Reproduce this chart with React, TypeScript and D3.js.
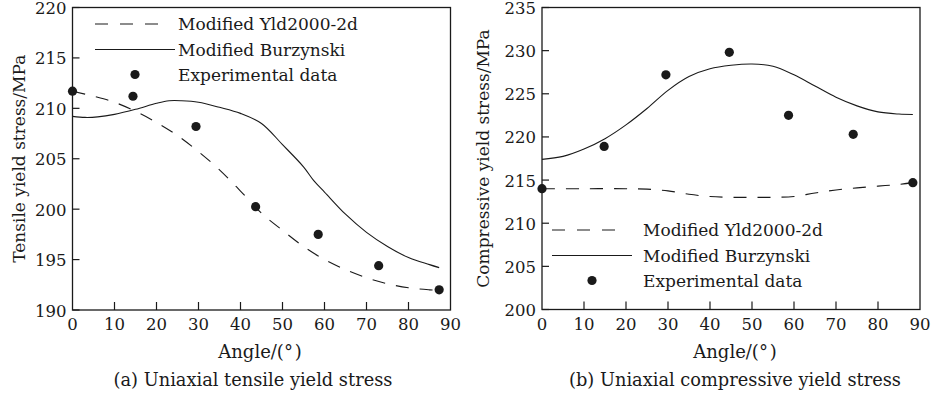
import React from 'react';
import * as d3 from 'd3';

// (a) tensile
const tensileYldAngles = [0, 5, 10, 15, 20, 25, 30, 35, 40, 45, 50, 55, 60, 65, 70, 75, 80, 85, 87.3];
const tensileYld = [211.7, 211.2, 210.6, 209.7, 208.6, 207.3, 205.7, 203.9, 201.8, 199.6, 197.9, 196.3, 195.0, 194.0, 193.2, 192.6, 192.2, 192.0, 191.95];
const tensileBurAngles = [0, 3, 6, 10, 15, 20, 23, 26, 30, 35, 40, 45, 50, 55, 57.5, 60, 65, 70, 75, 80, 85, 87.3];
const tensileBur = [209.2, 209.1, 209.15, 209.4, 209.9, 210.5, 210.75, 210.75, 210.6, 210.1, 209.5, 208.5, 206.4, 204.2, 202.8, 201.7, 199.5, 197.7, 196.3, 195.2, 194.5, 194.2];
const tensileExpAngles = [0, 14.4, 29.4, 43.6, 58.5, 72.9, 87.3];
const tensileExp = [211.7, 211.2, 208.2, 200.25, 197.5, 194.4, 192.0];

// (b) compressive
const compYldAngles = [0, 10, 20, 25, 30, 35, 40, 45, 50, 55, 60, 65, 70, 75, 80, 85, 88.3];
const compYld = [214.0, 214.0, 214.0, 213.95, 213.75, 213.35, 213.1, 213.0, 213.0, 213.0, 213.1, 213.5, 213.85, 214.1, 214.3, 214.5, 214.7];
const compBurAngles = [0, 5, 10, 15, 20, 25, 30, 35, 40, 45, 50, 55, 60, 65, 70, 75, 80, 85, 88.3];
const compBur = [217.4, 217.75, 218.6, 219.8, 221.4, 223.3, 225.4, 227.0, 227.9, 228.3, 228.45, 228.2, 227.2, 225.9, 224.6, 223.6, 222.9, 222.65, 222.6];
const compExpAngles = [0, 14.8, 29.5, 44.6, 58.7, 74.1, 88.3];
const compExp = [214.0, 218.9, 227.2, 229.8, 222.5, 220.3, 214.7];

const xTicks = [0, 10, 20, 30, 40, 50, 60, 70, 80, 90];
const tensileTicks = [190, 195, 200, 205, 210, 215, 220];
const compTicks = [200, 205, 210, 215, 220, 225, 230, 235];

const legendLabels = ['Modified Yld2000-2d', 'Modified Burzynski', 'Experimental data'];

const FONT = 'DejaVu Serif';
const INK = '#1a1a1a';

type Pt = [number, number];
const zip = (a: number[], b: number[]): Pt[] => a.map((v, i) => [v, b[i]]);

interface PanelProps {
  left: number;
  right: number;
  top: number;
  bottom: number;
  yDomain: [number, number];
  yTicks: number[];
  yld: Pt[];
  bur: Pt[];
  exp: Pt[];
  yTitle: string;
  caption: string;
  titleX: number;
  captionX: number;
  axisTitleX: number;
  legend: { x0: number; x1: number; textX: number; y: number };
}

function Panel(p: PanelProps) {
  const x = d3.scaleLinear().domain([0, 90]).range([p.left, p.right]);
  const y = d3.scaleLinear().domain(p.yDomain).range([p.bottom, p.top]);
  const line = d3.line<Pt>()
    .x(d => x(d[0]))
    .y(d => y(d[1]))
    .curve(d3.curveCatmullRom.alpha(0.5));
  const lg = p.legend;
  const midY = (p.top + p.bottom) / 2;
  return (
    <g>
      <path d={line(p.bur) || ''} fill="none" stroke={INK} strokeWidth={1.1} />
      <path d={line(p.yld) || ''} fill="none" stroke={INK} strokeWidth={1.1} strokeDasharray="13,11" />
      {p.exp.map((d, i) => (
        <circle key={i} cx={x(d[0])} cy={y(d[1])} r={4.6} fill={INK} />
      ))}
      <rect x={p.left} y={p.top} width={p.right - p.left} height={p.bottom - p.top}
        fill="none" stroke={INK} strokeWidth={1.3} />
      {p.yTicks.map(t => (
        <g key={'y' + t}>
          <line x1={p.left} x2={p.left + 7} y1={y(t)} y2={y(t)} stroke={INK} strokeWidth={1.2} />
          <text x={p.left - 6} y={y(t) + 2} textAnchor="end" dominantBaseline="middle"
            fontFamily={FONT} fontSize={16.5} fill={INK}>{t}</text>
        </g>
      ))}
      {xTicks.map(t => (
        <g key={'x' + t}>
          {t > 0 && t < 90 && (
            <line x1={x(t)} x2={x(t)} y1={p.bottom} y2={p.bottom - 8} stroke={INK} strokeWidth={1.2} />
          )}
          <text x={x(t)} y={p.bottom + 20} textAnchor="middle"
            fontFamily={FONT} fontSize={16.5} fill={INK}>{t}</text>
        </g>
      ))}
      <text transform={`translate(${p.axisTitleX},${midY}) rotate(-90)`} textAnchor="middle"
        fontFamily={FONT} fontSize={17} fill={INK}>{p.yTitle}</text>
      <text x={p.titleX} y={358} textAnchor="middle" fontFamily={FONT} fontSize={18} fill={INK}>
        Angle/(°&#8202;)
      </text>
      <text x={p.captionX} y={386} textAnchor="middle" fontFamily={FONT} fontSize={17.8} fill={INK}>
        {p.caption}
      </text>
      {/* legend */}
      <line x1={lg.x0} x2={lg.x1 - 15} y1={lg.y} y2={lg.y} stroke={INK} strokeWidth={1.1} strokeDasharray="13,12" />
      <line x1={lg.x0} x2={lg.x1} y1={lg.y + 25.5} y2={lg.y + 25.5} stroke={INK} strokeWidth={1.1} />
      <circle cx={(lg.x0 + lg.x1) / 2} cy={lg.y + 50.5} r={4.6} fill={INK} />
      {legendLabels.map((l, i) => (
        <text key={l} x={lg.textX} y={lg.y + i * 25.5 + 6} fontFamily={FONT} fontSize={17} fill={INK}>{l}</text>
      ))}
    </g>
  );
}

export default function App() {
  return (
    <svg width={932} height={396} style={{ position: 'absolute', left: 0, top: 0, background: '#fff' }}>
      <rect width={932} height={396} fill="#fff" />
      <Panel left={72.5} right={450.5} top={7.5} bottom={310} yDomain={[190, 220]} yTicks={tensileTicks}
        yld={zip(tensileYldAngles, tensileYld)} bur={zip(tensileBurAngles, tensileBur)}
        exp={zip(tensileExpAngles, tensileExp)}
        yTitle="Tensile yield stress/MPa" caption="(a) Uniaxial tensile yield stress"
        titleX={260} captionX={253} axisTitleX={25}
        legend={{ x0: 95, x1: 175, textX: 178, y: 24 }} />
      <Panel left={542} right={920} top={7.5} bottom={309.5} yDomain={[200, 235]} yTicks={compTicks}
        yld={zip(compYldAngles, compYld)} bur={zip(compBurAngles, compBur)}
        exp={zip(compExpAngles, compExp)}
        yTitle="Compressive yield stress/MPa" caption="(b) Uniaxial compressive yield stress"
        titleX={735} captionX={735} axisTitleX={489}
        legend={{ x0: 552, x1: 632, textX: 643, y: 230 }} />
    </svg>
  );
}
